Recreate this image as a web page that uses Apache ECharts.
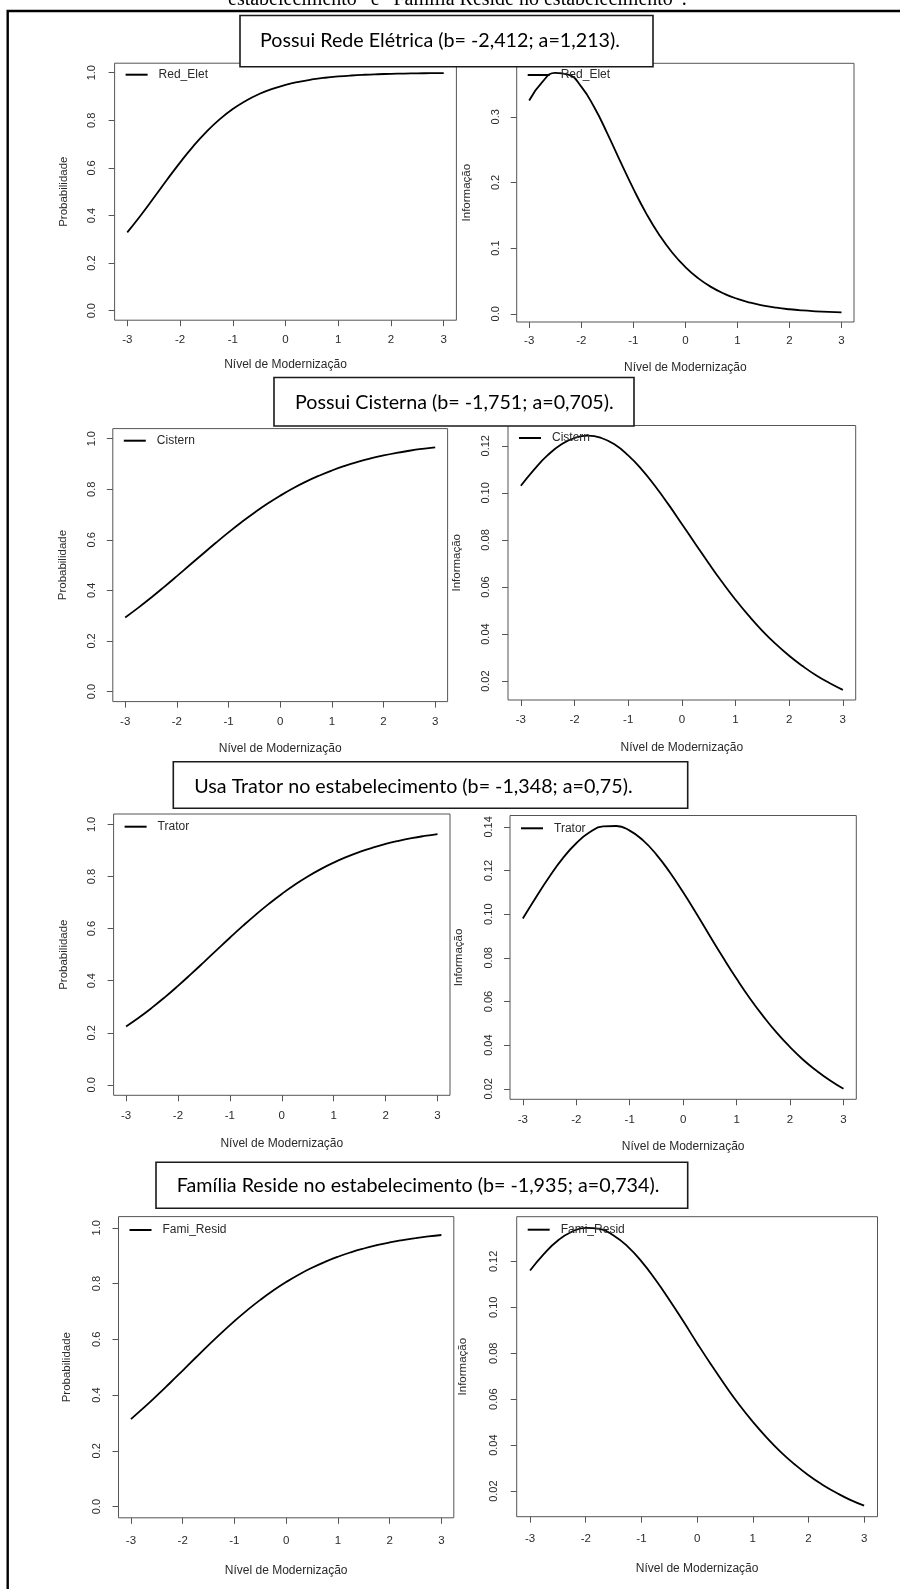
<!DOCTYPE html>
<html>
<head>
<meta charset="utf-8">
<script src="https://cdn.jsdelivr.net/npm/echarts@6/dist/echarts.min.js"></script>
<style>
  html, body { margin: 0; padding: 0; background: #fff; }
  #chart { width: 900px; height: 1589px; }
</style>
</head>
<body>
<div id="chart"></div>
<script>
// ---- Data -------------------------------------------------------------
// Latent trait grid (Nível de Modernização)
const theta = [-3, -2.75, -2.5, -2.25, -2, -1.75, -1.5, -1.25, -1, -0.75, -0.5, -0.25,
               0, 0.25, 0.5, 0.75, 1, 1.25, 1.5, 1.75, 2, 2.25, 2.5, 2.75, 3];

// Item characteristic curves (probability) and item information curves
const probRedElet = [0.3289, 0.3989, 0.4733, 0.5490, 0.6224, 0.6906, 0.7514, 0.8037, 0.8472, 0.8825,
  0.9105, 0.9323, 0.9491, 0.9619, 0.9716, 0.9789, 0.9843, 0.9884, 0.9914, 0.9936, 0.9953, 0.9965,
  0.9974, 0.9981, 0.9986];
const infoRedElet = [0.3248, 0.3528, 0.3668, 0.3643, 0.3458, 0.3144, 0.2748, 0.2321, 0.1905, 0.1526,
  0.1200, 0.0929, 0.0711, 0.0539, 0.0406, 0.0304, 0.0227, 0.0169, 0.0126, 0.0093, 0.0069, 0.0051,
  0.0038, 0.0028, 0.0021];

const probCistern = [0.2931, 0.3309, 0.3710, 0.4130, 0.4562, 0.5002, 0.5441, 0.5874, 0.6294, 0.6695,
  0.7072, 0.7424, 0.7746, 0.8039, 0.8302, 0.8536, 0.8743, 0.8924, 0.9082, 0.9219, 0.9337, 0.9438,
  0.9524, 0.9598, 0.9661];
const infoCistern = [0.1030, 0.1100, 0.1160, 0.1205, 0.1233, 0.1243, 0.1233, 0.1205, 0.1159, 0.1100,
  0.1029, 0.0951, 0.0868, 0.0784, 0.0701, 0.0621, 0.0546, 0.0477, 0.0414, 0.0358, 0.0308, 0.0264,
  0.0225, 0.0192, 0.0163];

const probTrator = [0.2246, 0.2589, 0.2965, 0.3370, 0.3801, 0.4252, 0.4715, 0.5184, 0.5649, 0.6103,
  0.6539, 0.6950, 0.7332, 0.7683, 0.8000, 0.8283, 0.8533, 0.8753, 0.8944, 0.9108, 0.9249, 0.9369,
  0.9472, 0.9558, 0.9631];
const infoTrator = [0.0980, 0.1079, 0.1173, 0.1257, 0.1325, 0.1375, 0.1402, 0.1404, 0.1383, 0.1338,
  0.1273, 0.1192, 0.1100, 0.1002, 0.0900, 0.0800, 0.0704, 0.0614, 0.0532, 0.0457, 0.0391, 0.0332,
  0.0282, 0.0238, 0.0200];

const probFamiResid = [0.3140, 0.3548, 0.3978, 0.4425, 0.4881, 0.5339, 0.5792, 0.6231, 0.6651, 0.7047,
  0.7414, 0.7750, 0.8054, 0.8326, 0.8566, 0.8777, 0.8961, 0.9120, 0.9256, 0.9373, 0.9473, 0.9557,
  0.9629, 0.9689, 0.9740];
const infoFamiResid = [0.1160, 0.1233, 0.1291, 0.1329, 0.1346, 0.1341, 0.1313, 0.1265, 0.1200, 0.1121,
  0.1033, 0.0940, 0.0844, 0.0751, 0.0662, 0.0578, 0.0502, 0.0433, 0.0371, 0.0317, 0.0269, 0.0228,
  0.0193, 0.0162, 0.0137];

// Tick values and labels
const xTicks = [-3, -2, -1, 0, 1, 2, 3];
const xTickLabels = ['-3', '-2', '-1', '0', '1', '2', '3'];
const probTicks = [0, 0.2, 0.4, 0.6, 0.8, 1];
const probTickLabels = ['0.0', '0.2', '0.4', '0.6', '0.8', '1.0'];
const infoTicksRedElet = [0, 0.1, 0.2, 0.3];
const infoTickLabelsRedElet = ['0.0', '0.1', '0.2', '0.3'];
const infoTicksCistern = [0.02, 0.04, 0.06, 0.08, 0.10, 0.12];
const infoTickLabelsCistern = ['0.02', '0.04', '0.06', '0.08', '0.10', '0.12'];
const infoTicksTrator = [0.02, 0.04, 0.06, 0.08, 0.10, 0.12, 0.14];
const infoTickLabelsTrator = ['0.02', '0.04', '0.06', '0.08', '0.10', '0.12', '0.14'];
const infoTicksFamiResid = [0.02, 0.04, 0.06, 0.08, 0.10, 0.12];
const infoTickLabelsFamiResid = ['0.02', '0.04', '0.06', '0.08', '0.10', '0.12'];

// Texts
const itemNames = ['Red_Elet', 'Cistern', 'Trator', 'Fami_Resid'];
const itemHeadings = [
  'Possui Rede Elétrica (b= -2,412; a=1,213).',
  'Possui Cisterna (b= -1,751; a=0,705).',
  'Usa Trator no estabelecimento (b= -1,348; a=0,75).',
  'Família Reside no estabelecimento (b= -1,935; a=0,734).'
];
const captionTail = 'estabelecimento” e “Família Reside no estabelecimento”.';
const xTitle = 'Nível de Modernização';
const probTitle = 'Probabilidade';
const infoTitle = 'Informação';

// ---- Layout -----------------------------------------------------------
// plot boxes (left plot = probability, right plot = information), row by row
const boxes = [
  { left: 114.6, top: 63.2, width: 341.8, height: 257.0 },
  { left: 516.7, top: 63.3, width: 337.3, height: 258.7 },
  { left: 112.8, top: 428.6, width: 334.8, height: 273.0 },
  { left: 508.0, top: 425.5, width: 347.7, height: 274.5 },
  { left: 113.6, top: 814.0, width: 336.4, height: 281.3 },
  { left: 510.0, top: 815.5, width: 346.3, height: 283.8 },
  { left: 118.5, top: 1216.6, width: 335.3, height: 301.2 },
  { left: 516.7, top: 1216.7, width: 360.8, height: 300.0 }
];
// distances from the plot box to the centre of each text row
const xLabelDist = [19.8, 19.7, 21.0, 20.7, 20.7, 20.7, 23.3, 22.6];
const xNameDist  = [45.8, 46.3, 48.3, 48.3, 49.7, 48.7, 54.0, 53.3];
const yLabelDist = [22.9, 21.7, 21.1, 22.3, 21.9, 21.7, 21.8, 23.4];
const yNameDist  = [51.6, 50.7, 50.1, 52.0, 50.3, 51.7, 51.8, 54.0];
const legendLineDy = [12.5, 12.7, 13.1, 13.5, 13.7, 13.8, 14.4, 14.0];

const headingBoxes = [
  { x: 240.0, y: 15.5, w: 413.0, h: 51.2, tx: 260.0, baseline: 47.0 },
  { x: 274.0, y: 377.5, w: 360.0, h: 48.5, tx: 295.0, baseline: 409.3 },
  { x: 173.3, y: 761.7, w: 514.4, h: 46.6, tx: 194.3, baseline: 793.3 },
  { x: 156.0, y: 1162.3, w: 531.7, h: 46.0, tx: 176.7, baseline: 1192.7 }
];

const SANS = '"Liberation Sans", Arial, sans-serif';
const BOX_COLOR = '#555';
const TEXT_COLOR = '#2a2a2a';

// ---- Panels -----------------------------------------------------------
const probSeries = [probRedElet, probCistern, probTrator, probFamiResid];
const infoSeries = [infoRedElet, infoCistern, infoTrator, infoFamiResid];
const infoTicks = [infoTicksRedElet, infoTicksCistern, infoTicksTrator, infoTicksFamiResid];
const infoTickLabels = [infoTickLabelsRedElet, infoTickLabelsCistern, infoTickLabelsTrator, infoTickLabelsFamiResid];

const panels = [];
for (let i = 0; i < 4; i++) {
  panels.push({ name: itemNames[i], values: probSeries[i], ticks: probTicks,
                labels: probTickLabels, yTitle: probTitle, fixed: [0, 1] });
  panels.push({ name: itemNames[i], values: infoSeries[i], ticks: infoTicks[i],
                labels: infoTickLabels[i], yTitle: infoTitle, fixed: null });
}

// R-style axis range: data range widened by 4% on each side
function padded(lo, hi) {
  const p = 0.04 * (hi - lo);
  return [lo - p, hi + p];
}
function labelFor(ticks, labels) {
  return v => {
    const k = ticks.findIndex(t => Math.abs(t - v) < 1e-9);
    return k >= 0 ? labels[k] : '';
  };
}

const xRange = padded(Math.min(...xTicks), Math.max(...xTicks));

const grid = [], xAxis = [], yAxis = [], series = [], legend = [];
panels.forEach((pn, i) => {
  const b = boxes[i];
  grid.push({ left: b.left, top: b.top, width: b.width, height: b.height,
              show: true, borderColor: BOX_COLOR, borderWidth: 1, backgroundColor: 'transparent' });

  xAxis.push({
    type: 'value', gridIndex: i, min: xRange[0], max: xRange[1], position: 'bottom',
    axisLine: { show: false, onZero: false },
    axisTick: { show: true, inside: false, customValues: xTicks, length: 6,
                lineStyle: { color: BOX_COLOR, width: 1 } },
    axisLabel: { customValues: xTicks, formatter: labelFor(xTicks, xTickLabels),
                 margin: xLabelDist[i] - 6.5, fontFamily: SANS, fontSize: 11.5, color: TEXT_COLOR },
    splitLine: { show: false },
    name: xTitle, nameLocation: 'middle', nameGap: xNameDist[i] - 7,
    nameTextStyle: { fontFamily: SANS, fontSize: 12, color: TEXT_COLOR }
  });

  const yr = pn.fixed ? padded(pn.fixed[0], pn.fixed[1])
                      : padded(Math.min(...pn.values), Math.max(...pn.values));
  yAxis.push({
    type: 'value', gridIndex: i, min: yr[0], max: yr[1], position: 'left',
    axisLine: { show: false, onZero: false },
    axisTick: { show: true, inside: false, customValues: pn.ticks, length: 6,
                lineStyle: { color: BOX_COLOR, width: 1 } },
    axisLabel: { customValues: pn.ticks, formatter: labelFor(pn.ticks, pn.labels), rotate: 90,
                 margin: yLabelDist[i] - 6, fontFamily: SANS, fontSize: 11, color: TEXT_COLOR },
    splitLine: { show: false },
    name: pn.yTitle, nameLocation: 'middle', nameRotate: 90, nameGap: yNameDist[i] - 6.5,
    nameTextStyle: { fontFamily: SANS, fontSize: 11.5, color: TEXT_COLOR }
  });

  series.push({
    type: 'line', name: pn.name, xAxisIndex: i, yAxisIndex: i,
    data: theta.map((t, k) => [t, pn.values[k]]),
    showSymbol: false, symbol: 'none', smooth: true,
    color: '#000', lineStyle: { color: '#000', width: 1.8 },
    silent: true, animation: false
  });

  legend.push({
    data: [pn.name], selectedMode: false, orient: 'horizontal',
    left: b.left + 11, top: b.top + legendLineDy[i] - 7, padding: 0,
    icon: 'rect', itemWidth: 22, itemHeight: 2, itemGap: 0,
    itemStyle: { color: '#000' },
    textStyle: { fontFamily: SANS, fontSize: 12, color: TEXT_COLOR, padding: [0, 0, 0, 6] }
  });
});

// ---- Page furniture: frame, caption remnant, item headings ------------
const graphic = [
  { type: 'polyline', z: 100, silent: true,
    shape: { points: [[7.7, 1589], [7.7, 11], [900, 11]] },
    style: { stroke: '#000', lineWidth: 2.4, fill: null } },
  { type: 'text', z: 100, silent: true, x: 228, y: 7 - 7,
    style: { text: captionTail, fontFamily: '"Liberation Serif", "Times New Roman", serif',
             fontSize: 20, fill: '#000', align: 'left', verticalAlign: 'middle' } }
];
headingBoxes.forEach((hb, i) => {
  graphic.push({ type: 'rect', z: 100, silent: true,
    shape: { x: hb.x, y: hb.y, width: hb.w, height: hb.h },
    style: { fill: '#fff', stroke: '#1a1a1a', lineWidth: 1.6 } });
  graphic.push({ type: 'text', z: 101, silent: true, x: hb.tx, y: hb.baseline - 6.8,
    style: { text: itemHeadings[i], fontFamily: 'Lato, "Open Sans", sans-serif',
             fontSize: 19.7, fill: '#000', align: 'left', verticalAlign: 'middle' } });
});

const chart = echarts.init(document.getElementById('chart'), null,
                           { renderer: 'canvas', width: 900, height: 1589 });
chart.setOption({
  animation: false,
  backgroundColor: '#fff',
  grid, xAxis, yAxis, series, legend, graphic
});
</script>
</body>
</html>
